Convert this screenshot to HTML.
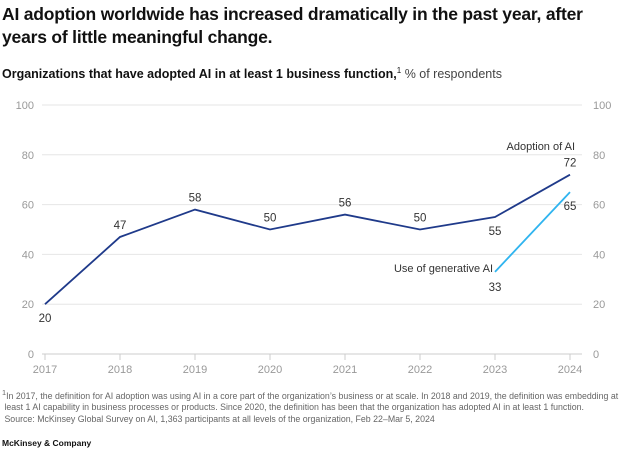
<!DOCTYPE html>
<html><head><meta charset="utf-8"><style>
body{margin:0;width:620px;height:456px;background:#fff;font-family:"Liberation Sans",sans-serif;overflow:hidden;position:relative}
.t{position:absolute;left:2px;top:3px;font-size:17.5px;font-weight:bold;line-height:23px;color:#111;letter-spacing:-0.2px}
.s{position:absolute;left:2px;top:66px;font-size:12.5px;color:#111}
.fn{position:absolute;left:2px;top:387px;font-size:8.8px;line-height:11.5px;color:#666}
.mk{position:absolute;left:2px;top:438px;font-size:8.5px;color:#111;font-weight:bold}
svg{position:absolute;left:0;top:0}
</style></head><body>
<div class="t">AI adoption worldwide has increased dramatically in the past year, after<br>years of little meaningful change.</div>
<div class="s"><b>Organizations that have adopted AI in at least 1 business function,</b><sup style="font-size:8px">1</sup> <span style="color:#444">% of respondents</span></div>
<svg id="c" width="620" height="456"></svg>
<div class="fn"><sup>1</sup>In 2017, the definition for AI adoption was using AI in a core part of the organization’s business or at scale. In 2018 and 2019, the definition was embedding at<br>&nbsp;least 1 AI capability in business processes or products. Since 2020, the definition has been that the organization has adopted AI in at least 1 function.<br>&nbsp;Source: McKinsey Global Survey on AI, 1,363 participants at all levels of the organization, Feb 22–Mar 5, 2024</div>
<div class="mk">McKinsey &amp; Company</div>
<script>
const years=[2017,2018,2019,2020,2021,2022,2023,2024];
const adoption=[20,47,58,50,56,50,55,72];
const genYears=[2023,2024];
const genAI=[33,65];
const yTicks=[0,20,40,60,80,100];
const svg=document.getElementById('c');
const NS='http://www.w3.org/2000/svg';
const x=y=>45+(y-2017)*75;
const yv=v=>354-v*2.49;
function el(t,a,txt){const e=document.createElementNS(NS,t);for(const k in a)e.setAttribute(k,a[k]);if(txt!=null)e.textContent=txt;svg.appendChild(e);return e;}
yTicks.forEach(v=>{
 const g=el('line',{x1:42,x2:582,y1:yv(v),y2:yv(v),stroke:v===0?'#ccc':'#e6e6e6','stroke-width':1});
 
 
 const l=el('text',{x:34,y:yv(v)+4,'text-anchor':'end','font-size':11,fill:'#999'},v);
 
 
 const r=el('text',{x:593,y:yv(v)+4,'font-size':11,fill:'#999'},v);
 
 
});
years.forEach(y=>{
 const t=el('line',{x1:x(y),x2:x(y),y1:354,y2:360,stroke:'#ccc'});
 
 
 const l=el('text',{x:x(y),y:373,'text-anchor':'middle','font-size':11,fill:'#999'},y);
 
 
});
const p1=el('polyline',{points:years.map((y,i)=>x(y)+','+yv(adoption[i])).join(' '),fill:'none',stroke:'#1f3a8a','stroke-width':1.8});


const p2=el('polyline',{points:genYears.map((y,i)=>x(y)+','+yv(genAI[i])).join(' '),fill:'none',stroke:'#2fb4ef','stroke-width':1.8});


adoption.forEach((v,i)=>{
 let dy=-8;if(i===0)dy=18;
 if(i===6)dy=18;
 const t=el('text',{x:x(years[i]),y:yv(v)+dy,'text-anchor':'middle','font-size':11.5,fill:'#333'},v);
 
 
});
genAI.forEach((v,i)=>{
 const dy=i===0?19:18;
 const t=el('text',{x:x(genYears[i]),y:yv(v)+dy,'text-anchor':'middle','font-size':11.5,fill:'#333'},v);
 
 
});
const a=el('text',{x:575,y:150,'text-anchor':'end','font-size':11,fill:'#333'},'Adoption of AI');


const b=el('text',{x:493,y:272,'text-anchor':'end','font-size':11,fill:'#333'},'Use of generative AI');


</script>
</body></html>
